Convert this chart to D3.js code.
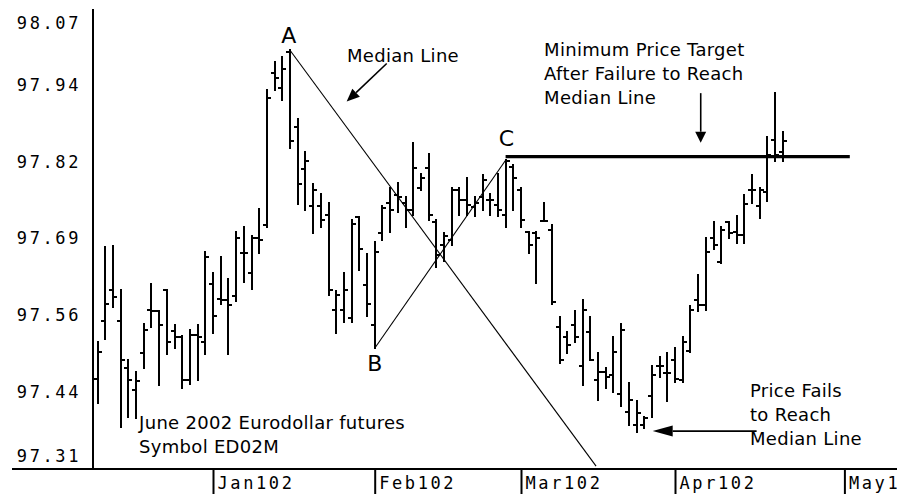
<!DOCTYPE html>
<html>
<head>
<meta charset="utf-8">
<script src="https://cdn.jsdelivr.net/npm/d3@7/dist/d3.min.js"></script>
<style>
body { margin: 0; background: #fff; }
svg { display: block; }
.note { font-family: "DejaVu Sans", sans-serif; font-size: 18px; fill: #000; letter-spacing: 0.3px; }
.pivot { font-family: "DejaVu Sans", sans-serif; font-size: 22px; fill: #000; }
.pix { font-family: "DejaVu Sans Mono", monospace; font-size: 17px; letter-spacing: 2.6px; fill: #000; }
</style>
</head>
<body>
<div id="chart"></div>
<script>
var width = 897,
    height = 494;

// daily bars, one per trading day (Dec 10 2001 .. Apr 19 2002)
var highs = [97.519, 97.676, 97.678, 97.604, 97.489, 97.468, 97.548, 97.614, 97.570, 97.604,
    97.547, 97.528, 97.538, 97.547, 97.668, 97.632, 97.659, 97.623, 97.700, 97.709,
    97.694, 97.738, 97.935, 97.982, 97.989, 98.001, 97.887, 97.833, 97.779, 97.764,
    97.748, 97.602, 97.632, 97.721, 97.725, 97.664, 97.683, 97.743, 97.773, 97.782,
    97.759, 97.848, 97.797, 97.829, 97.720, 97.698, 97.773, 97.773, 97.789, 97.759,
    97.795, 97.764, 97.797, 97.819, 97.811, 97.773, 97.701, 97.701, 97.748, 97.712,
    97.560, 97.535, 97.569, 97.588, 97.560, 97.500, 97.475, 97.527, 97.548, 97.450,
    97.420, 97.395, 97.478, 97.493, 97.500, 97.508, 97.527, 97.578, 97.629, 97.690,
    97.717, 97.709, 97.717, 97.726, 97.762, 97.795, 97.773, 97.858, 97.930, 97.866];

var lows = [97.418, 97.523, 97.577, 97.377, 97.395, 97.392, 97.475, 97.544, 97.447, 97.499,
    97.508, 97.442, 97.449, 97.456, 97.499, 97.533, 97.581, 97.499, 97.586, 97.618,
    97.606, 97.665, 97.709, 97.935, 97.919, 97.839, 97.746, 97.736, 97.698, 97.708,
    97.596, 97.533, 97.552, 97.552, 97.638, 97.561, 97.508, 97.687, 97.701, 97.734,
    97.709, 97.729, 97.770, 97.720, 97.643, 97.653, 97.679, 97.729, 97.729, 97.726,
    97.737, 97.729, 97.726, 97.709, 97.737, 97.709, 97.665, 97.616, 97.719, 97.582,
    97.483, 97.500, 97.519, 97.447, 97.489, 97.422, 97.442, 97.436, 97.413, 97.381,
    97.370, 97.376, 97.395, 97.461, 97.420, 97.453, 97.453, 97.502, 97.569, 97.571,
    97.673, 97.649, 97.690, 97.682, 97.682, 97.748, 97.723, 97.752, 97.817, 97.817];

var opens = [97.457, 97.553, 97.604, 97.553, 97.475, 97.439, 97.500, 97.571, 97.569, 97.604,
    97.537, 97.527, 97.456, 97.530, 97.518, 97.614, 97.589, 97.588, 97.595, 97.665,
    97.632, 97.690, 97.712, 97.963, 97.938, 97.998, 97.874, 97.805, 97.744, 97.744,
    97.729, 97.571, 97.571, 97.558, 97.725, 97.613, 97.547, 97.698, 97.748, 97.762,
    97.749, 97.737, 97.773, 97.807, 97.717, 97.679, 97.687, 97.769, 97.753, 97.742,
    97.759, 97.753, 97.745, 97.729, 97.808, 97.770, 97.701, 97.698, 97.719, 97.704,
    97.544, 97.527, 97.547, 97.478, 97.535, 97.456, 97.469, 97.464, 97.432, 97.403,
    97.381, 97.381, 97.429, 97.478, 97.467, 97.488, 97.456, 97.504, 97.588, 97.580,
    97.690, 97.651, 97.717, 97.701, 97.695, 97.770, 97.743, 97.767, 97.853, 97.833];

var closes = [97.502, 97.581, 97.593, 97.489, 97.456, 97.454, 97.538, 97.570, 97.547, 97.518,
    97.527, 97.456, 97.530, 97.527, 97.659, 97.562, 97.588, 97.579, 97.690, 97.665,
    97.690, 97.687, 97.922, 97.955, 97.970, 97.851, 97.780, 97.817, 97.770, 97.720,
    97.604, 97.596, 97.604, 97.714, 97.673, 97.581, 97.667, 97.740, 97.737, 97.759,
    97.737, 97.807, 97.789, 97.729, 97.662, 97.693, 97.769, 97.753, 97.745, 97.748,
    97.786, 97.753, 97.737, 97.817, 97.789, 97.720, 97.679, 97.690, 97.719, 97.585,
    97.489, 97.513, 97.527, 97.571, 97.489, 97.469, 97.461, 97.502, 97.538, 97.422,
    97.401, 97.392, 97.464, 97.478, 97.467, 97.458, 97.519, 97.571, 97.580, 97.667,
    97.679, 97.704, 97.698, 97.695, 97.747, 97.770, 97.769, 97.828, 97.828, 97.851];

// first trading day of each month (bar index)
var monthIdx = [15, 36, 55, 75, 97];
var monthLabels = ["Jan102", "Feb102", "Mar102", "Apr102", "May102"];

var yTicks = [97.31, 97.4367, 97.5633, 97.69, 97.8167, 97.9433, 98.07];
var yTickLabels = ["97.31", "97.44", "97.56", "97.69", "97.82", "97.94", "98.07"];

// pitchfork pivots (bar index) and target level
var pivotA = 25, pivotB = 36, pivotC = 53;
var targetLevel = 97.825;
var targetEnd = 97.7;
var medianFloor = 97.313;

var axisX = 93,
    axisY = 469;

var svg = d3.select("#chart")
    .append("svg")
    .attr("width", width)
    .attr("height", height);

var x = d3.scaleLinear()
    .domain([0, 97])
    .range([97.5, 844.4]);

var y = d3.scaleLinear()
    .domain([97.31, 98.07])
    .range([468, 8.5]);

// axes frame
svg.append("line")
    .attr("x1", axisX).attr("x2", axisX)
    .attr("y1", 9).attr("y2", axisY)
    .attr("stroke", "#000").attr("stroke-width", 2);

svg.append("line")
    .attr("x1", 12).attr("x2", width)
    .attr("y1", axisY).attr("y2", axisY)
    .attr("stroke", "#000").attr("stroke-width", 2);

// y labels, end labels pulled inside the frame
var yAxis = d3.axisLeft(y)
    .tickValues(yTicks)
    .tickSize(0)
    .tickFormat((d, i) => yTickLabels[i]);

var gy = svg.append("g")
    .attr("transform", `translate(${axisX}, 0)`)
    .call(yAxis);

gy.select(".domain").remove();
gy.selectAll(".tick")
    .attr("transform", d => `translate(0, ${Math.max(23, Math.min(455.5, y(d)))})`);
gy.selectAll(".tick text")
    .attr("class", "pix")
    .attr("x", -12)
    .attr("dy", "0.36em")
    .attr("font-family", null)
    .attr("font-size", null);
gy.attr("font-family", null).attr("font-size", null);

// month ticks
var xAxis = d3.axisBottom(x)
    .tickValues(monthIdx)
    .tickSize(height - axisY)
    .tickFormat((d, i) => monthLabels[i]);

var gx = svg.append("g")
    .attr("transform", `translate(0, ${axisY})`)
    .call(xAxis);

gx.select(".domain").remove();
gx.selectAll(".tick line").attr("stroke-width", 2);
gx.selectAll(".tick text")
    .attr("class", "pix")
    .attr("x", 4)
    .attr("y", 20)
    .attr("dy", 0)
    .style("text-anchor", "start");
gx.attr("font-family", null).attr("font-size", null);

// OHLC bars
var bars = svg.append("g")
    .attr("stroke", "#000")
    .attr("stroke-width", 2)
    .attr("shape-rendering", "crispEdges");

var idx = d3.range(highs.length);

bars.selectAll("line.hl")
    .data(idx)
    .enter()
    .append("line")
    .attr("class", "hl")
    .attr("x1", i => x(i)).attr("x2", i => x(i))
    .attr("y1", i => y(highs[i]) - 1).attr("y2", i => y(lows[i]) + 1);

bars.selectAll("line.op")
    .data(idx)
    .enter()
    .append("line")
    .attr("class", "op")
    .attr("x1", i => x(i) - 4).attr("x2", i => x(i))
    .attr("y1", i => y(opens[i])).attr("y2", i => y(opens[i]));

bars.selectAll("line.cl")
    .data(idx)
    .enter()
    .append("line")
    .attr("class", "cl")
    .attr("x1", i => x(i)).attr("x2", i => x(i) + 4)
    .attr("y1", i => y(closes[i])).attr("y2", i => y(closes[i]));

// pitchfork lines
var A = [pivotA, highs[pivotA]],
    B = [pivotB, lows[pivotB]],
    C = [pivotC, highs[pivotC]],
    M = [(B[0] + C[0]) / 2, (B[1] + C[1]) / 2];

var t = (A[1] - medianFloor) / (A[1] - M[1]);
var E = [A[0] + t * (M[0] - A[0]), medianFloor];

svg.append("line")
    .attr("x1", x(A[0])).attr("y1", y(A[1]))
    .attr("x2", x(E[0])).attr("y2", y(E[1]))
    .attr("stroke", "#000").attr("stroke-width", 1.1);

svg.append("line")
    .attr("x1", x(B[0])).attr("y1", y(B[1]))
    .attr("x2", x(C[0])).attr("y2", y(C[1]))
    .attr("stroke", "#000").attr("stroke-width", 1.1);

svg.append("line")
    .attr("x1", x(C[0])).attr("x2", x(targetEnd))
    .attr("y1", y(targetLevel)).attr("y2", y(targetLevel))
    .attr("stroke", "#000").attr("stroke-width", 3.2);

// pivot letters
var pivotLabels = [
    {t: "A", i: 24.85, v: 98.013},
    {t: "B", i: 36.0, v: 97.470},
    {t: "C", i: 53.1, v: 97.843}
];

svg.selectAll("text.pivot")
    .data(pivotLabels)
    .enter()
    .append("text")
    .attr("class", "pivot")
    .attr("x", d => x(d.i))
    .attr("y", d => y(d.v))
    .style("text-anchor", "middle")
    .text(d => d.t);

// notes
function note(lines, i, v, step) {
    var txt = svg.append("text")
        .attr("class", "note")
        .attr("x", x(i))
        .attr("y", y(v));
    txt.selectAll("tspan")
        .data(lines)
        .enter()
        .append("tspan")
        .attr("x", x(i))
        .attr("dy", (d, k) => k == 0 ? 0 : step)
        .text(d => d);
}

note(["Median Line"], 32.4, 97.982, 0);
note(["Minimum Price Target", "After Failure to Reach", "Median Line"], 58.0, 97.991, 24);
note(["Price Fails", "to Reach", "Median Line"], 84.74, 97.428, 24.2);
note(["June 2002 Eurodollar futures", "Symbol ED02M"], 5.4, 97.375, 24.5);

function arrow(i1, v1, i2, v2, len, half) {
    var x1 = x(i1), y1 = y(v1), x2 = x(i2), y2 = y(v2);
    var dx = x2 - x1, dy = y2 - y1, d = Math.sqrt(dx * dx + dy * dy);
    var ux = dx / d, uy = dy / d;
    var bx = x2 - ux * len, by = y2 - uy * len;
    svg.append("line")
        .attr("x1", x1).attr("y1", y1)
        .attr("x2", bx).attr("y2", by)
        .attr("stroke", "#000").attr("stroke-width", 1.6);
    svg.append("polygon")
        .attr("points", [
            [x2, y2],
            [bx - uy * half, by + ux * half],
            [bx + uy * half, by - ux * half]
        ].map(p => p.join(",")).join(" "))
        .attr("fill", "#000");
}

arrow(37.56, 97.979, 32.36, 97.916, 13, 5.5);
arrow(78.34, 97.930, 78.34, 97.848, 11, 5.5);
arrow(85.6, 97.371, 72.1, 97.371, 20, 5.5);
</script>
</body>
</html>
